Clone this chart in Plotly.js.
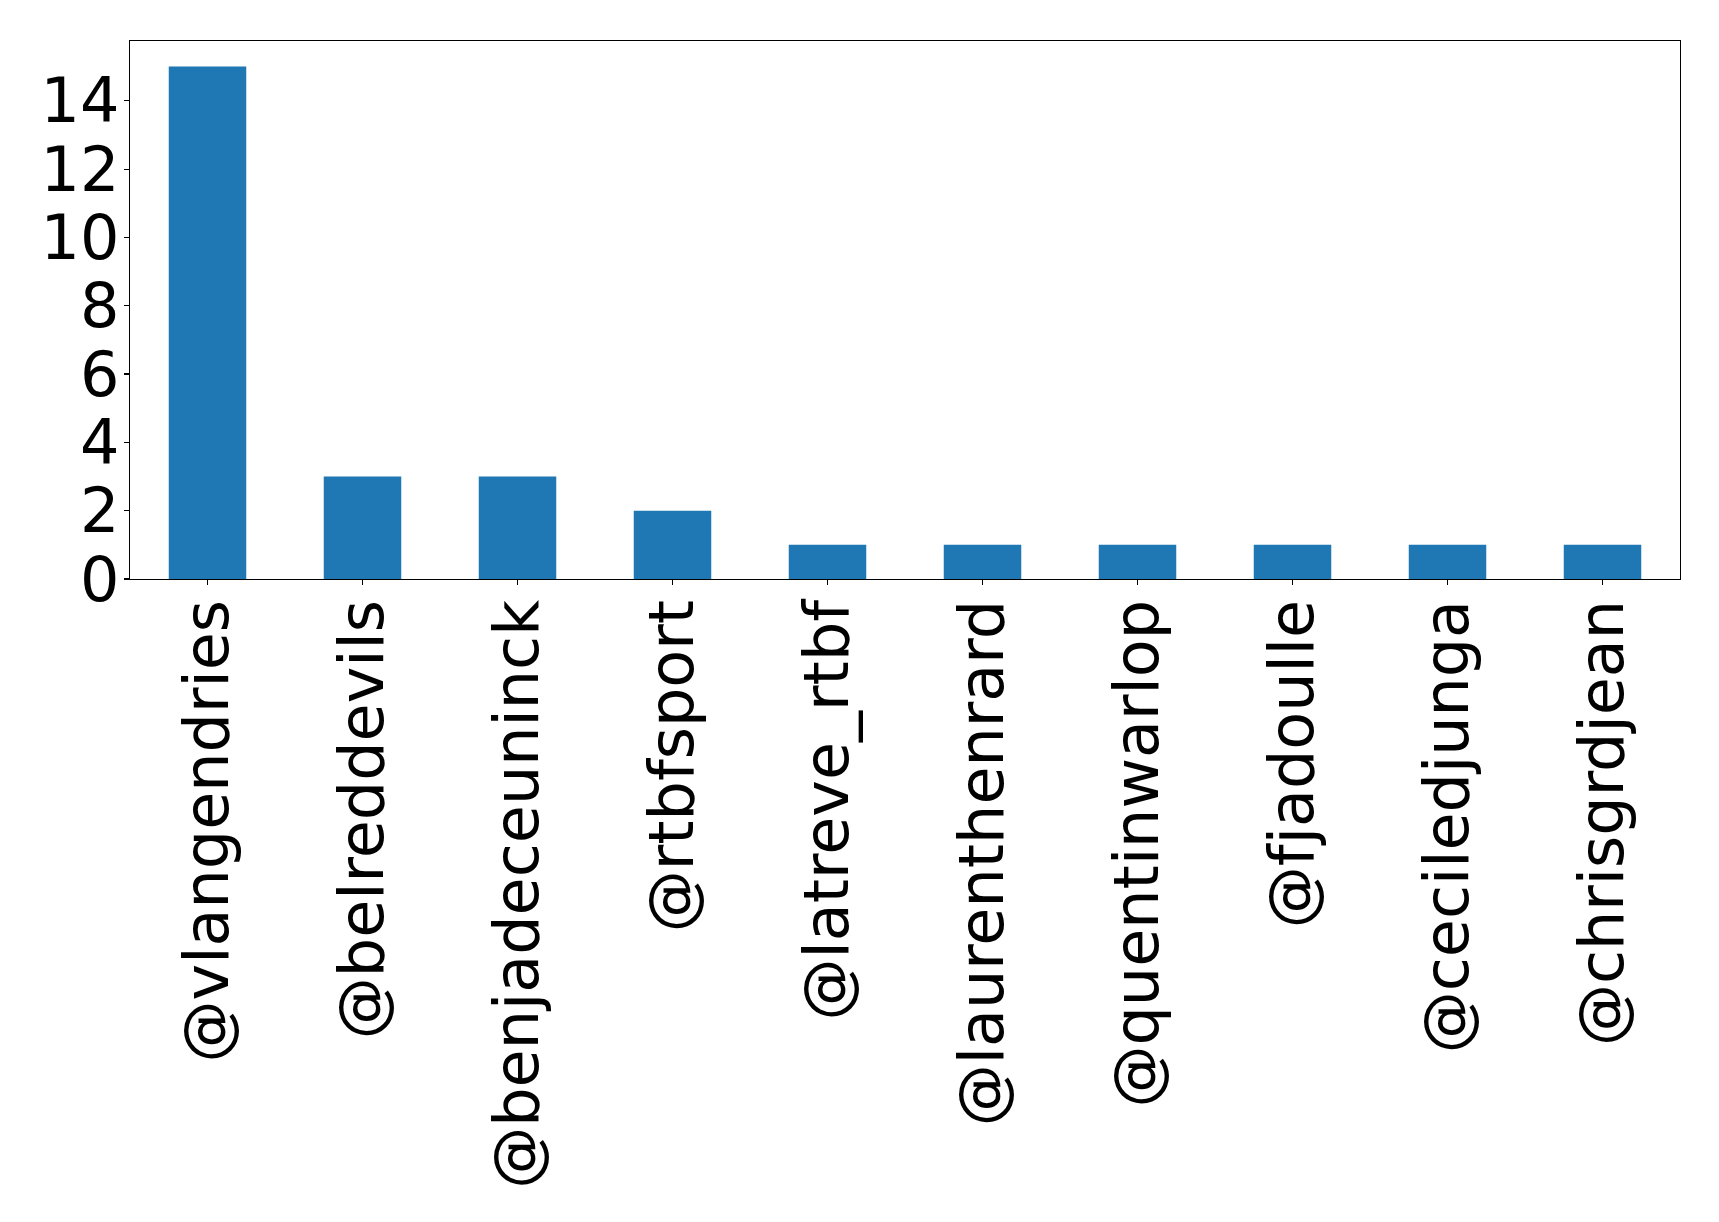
<!DOCTYPE html>
<html>
<head>
<meta charset="utf-8">
<script src="https://cdn.plot.ly/plotly-3.0.1.min.js"></script>
<style>html,body{margin:0;padding:0;background:#fff;}#chart{width:1719px;height:1222px;}</style>
</head>
<body>
<div id="chart"></div>
<script>
const categories = ["@vlangendries","@belreddevils","@benjadeceuninck","@rtbfsport","@latreve_rtbf","@laurenthenrard","@quentinwarlop","@fjadoulle","@ceciledjunga","@chrisgrdjean"];
const counts = [15, 3, 3, 2, 1, 1, 1, 1, 1, 1];
const yTicks = [0, 2, 4, 6, 8, 10, 12, 14];

const trace = {
  type: 'bar',
  x: categories,
  y: counts,
  width: 0.5,
  marker: {color: '#1f77b4', line: {width: 0}},
  hoverinfo: 'x+y'
};

const layout = {
  width: 1719,
  height: 1222,
  margin: {l: 129.5, r: 39.3, t: 40.5, b: 642.7, pad: 0},
  paper_bgcolor: '#fff',
  plot_bgcolor: '#fff',
  showlegend: false,
  font: {family: 'DejaVu Sans', color: '#000', size: 62},
  xaxis: {
    type: 'category',
    range: [-0.5, 9.5],
    tickangle: -90,
    ticks: 'outside',
    ticklen: 5,
    tickwidth: 1.1,
    tickcolor: '#000',
    showline: true,
    linecolor: '#000',
    linewidth: 1.1,
    mirror: true,
    showgrid: false,
    zeroline: false,
    automargin: false,
    ticklabelstandoff: -10,
    tickfont: {family: 'DejaVu Sans', size: 62, color: '#000'}
  },
  yaxis: {
    range: [0, 15.75],
    tickmode: 'array',
    tickvals: yTicks,
    ticktext: yTicks.map(String),
    ticks: 'outside',
    ticklen: 5,
    tickwidth: 1.1,
    tickcolor: '#000',
    showline: true,
    linecolor: '#000',
    linewidth: 1.1,
    mirror: true,
    showgrid: false,
    zeroline: false,
    automargin: false,
    ticklabelstandoff: -8,
    tickfont: {family: 'DejaVu Sans', size: 62, color: '#000'}
  }
};

Plotly.newPlot('chart', [trace], layout, {displayModeBar: false, staticPlot: true});
</script>
</body>
</html>
